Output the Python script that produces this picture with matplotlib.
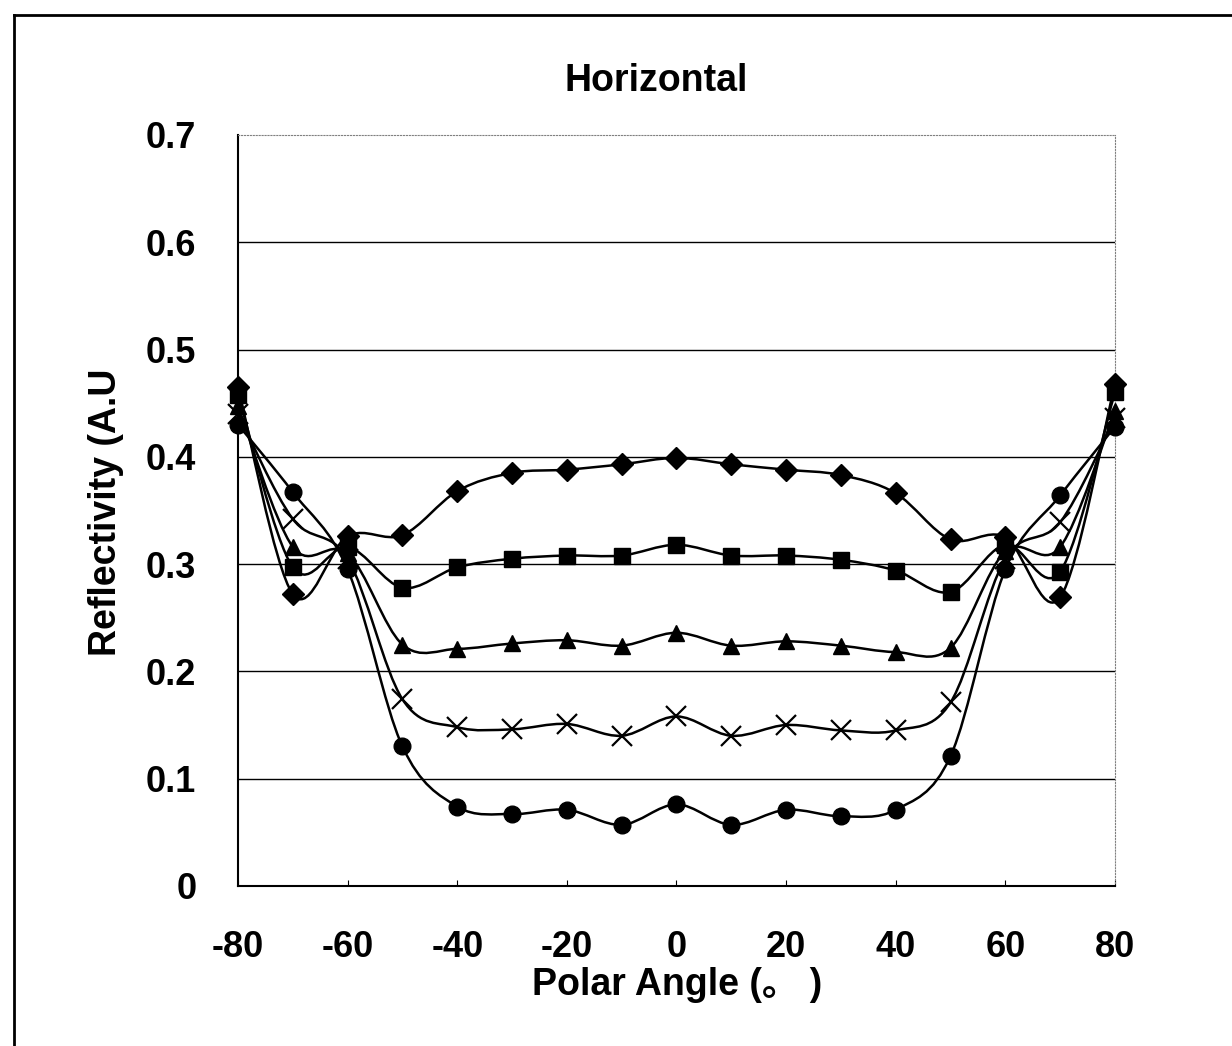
import numpy as np
import matplotlib
matplotlib.use('Agg')
import matplotlib.pyplot as plt
from matplotlib.path import Path
from matplotlib.patches import PathPatch

plt.rcParams['axes.unicode_minus'] = False

# Polar angle (deg) and reflectivity
angles = [-80, -70, -60, -50, -40, -30, -20, -10, 0, 10, 20, 30, 40, 50, 60, 70, 80]
refl_diamond = [0.465, 0.272, 0.326, 0.327, 0.368, 0.385, 0.388, 0.393, 0.399, 0.393, 0.388, 0.383, 0.366, 0.323, 0.325, 0.269, 0.468]
refl_square = [0.458, 0.297, 0.316, 0.278, 0.297, 0.305, 0.308, 0.308, 0.318, 0.308, 0.308, 0.304, 0.294, 0.274, 0.318, 0.293, 0.460]
refl_triangle = [0.447, 0.316, 0.310, 0.225, 0.221, 0.226, 0.229, 0.224, 0.236, 0.224, 0.228, 0.224, 0.218, 0.222, 0.312, 0.316, 0.443]
refl_cross = [0.440, 0.342, 0.305, 0.174, 0.148, 0.146, 0.151, 0.140, 0.158, 0.140, 0.150, 0.145, 0.145, 0.171, 0.305, 0.339, 0.436]
refl_circle = [0.430, 0.367, 0.295, 0.130, 0.074, 0.067, 0.071, 0.057, 0.076, 0.057, 0.071, 0.065, 0.071, 0.121, 0.295, 0.364, 0.428]

series = [
    (refl_diamond, 'D', 11),
    (refl_square, 's', 11),
    (refl_triangle, '^', 12),
    (refl_cross, 'x', 14),
    (refl_circle, 'o', 12),
]

lab_font = dict(family='Liberation Sans', weight='bold', size=27)


def smooth_path(xs, ys):
    # Excel-style smoothed line as cubic Bezier segments
    pts = np.column_stack([xs, ys]).astype(float)
    n = len(pts)
    verts = [pts[0]]
    codes = [Path.MOVETO]
    for i in range(n - 1):
        p0 = pts[i - 1] if i > 0 else pts[i]
        p1 = pts[i]
        p2 = pts[i + 1]
        p3 = pts[i + 2] if i + 2 < n else pts[i + 1]
        c1 = p1 + (p2 - p0) / 6.0
        c2 = p2 - (p3 - p1) / 6.0
        verts += [c1, c2, p2]
        codes += [Path.CURVE4] * 3
    return Path(verts, codes)


fig = plt.figure(figsize=(12.32, 10.46), dpi=100)
ax = fig.add_axes([0.1932, 0.153, 0.7118, 0.718])

for vals, mk, ms in series:
    ax.add_patch(PathPatch(smooth_path(angles, vals), facecolor='none',
                           edgecolor='black', lw=1.8, zorder=3))
    if mk == 'x':
        ax.plot(angles, vals, ls='none', marker=mk, ms=ms, mew=1.6,
                color='black', zorder=4, clip_on=False)
    else:
        ax.plot(angles, vals, ls='none', marker=mk, ms=ms,
                color='black', zorder=4, clip_on=False)

ax.set_xlim(-80, 80)
ax.set_ylim(0, 0.7)
ax.set_xticks(range(-80, 81, 20))
ax.set_yticks(np.arange(0, 0.71, 0.1))
ax.set_yticklabels(['0', '0.1', '0.2', '0.3', '0.4', '0.5', '0.6', '0.7'])
for y in np.arange(0.1, 0.61, 0.1):
    ax.axhline(y, color='black', lw=1.0, zorder=1)

for lab in ax.get_xticklabels() + ax.get_yticklabels():
    lab.set_fontfamily('Liberation Sans')
    lab.set_fontweight('bold')
    lab.set_fontsize(26)
ax.tick_params(axis='x', direction='in', length=4, pad=32)
ax.tick_params(axis='y', direction='in', length=0, pad=30)

ax.spines['top'].set_linestyle(':')
ax.spines['right'].set_linestyle(':')
ax.spines['top'].set_color('gray')
ax.spines['right'].set_color('gray')
ax.spines['left'].set_linewidth(1.5)
ax.spines['bottom'].set_linewidth(1.5)

fig.text(0.533, 0.923, 'Horizontal', ha='center', va='center', **lab_font)
fig.text(0.55, 0.058, 'Polar Angle (\u3002 )', ha='center', va='center',
         family=['Liberation Sans', 'Noto Sans CJK JP'], weight='bold', size=27)
fig.text(0.086, 0.51, 'Reflectivity (A.U', ha='center', va='center',
         rotation=90, **lab_font)

# outer frame
fig.add_artist(plt.Line2D([0.011, 0.011], [0, 0.986], color='black', lw=2,
                          transform=fig.transFigure))
fig.add_artist(plt.Line2D([0.011, 1.0], [0.986, 0.986], color='black', lw=2,
                          transform=fig.transFigure))

fig.savefig('out.png', dpi=100)
